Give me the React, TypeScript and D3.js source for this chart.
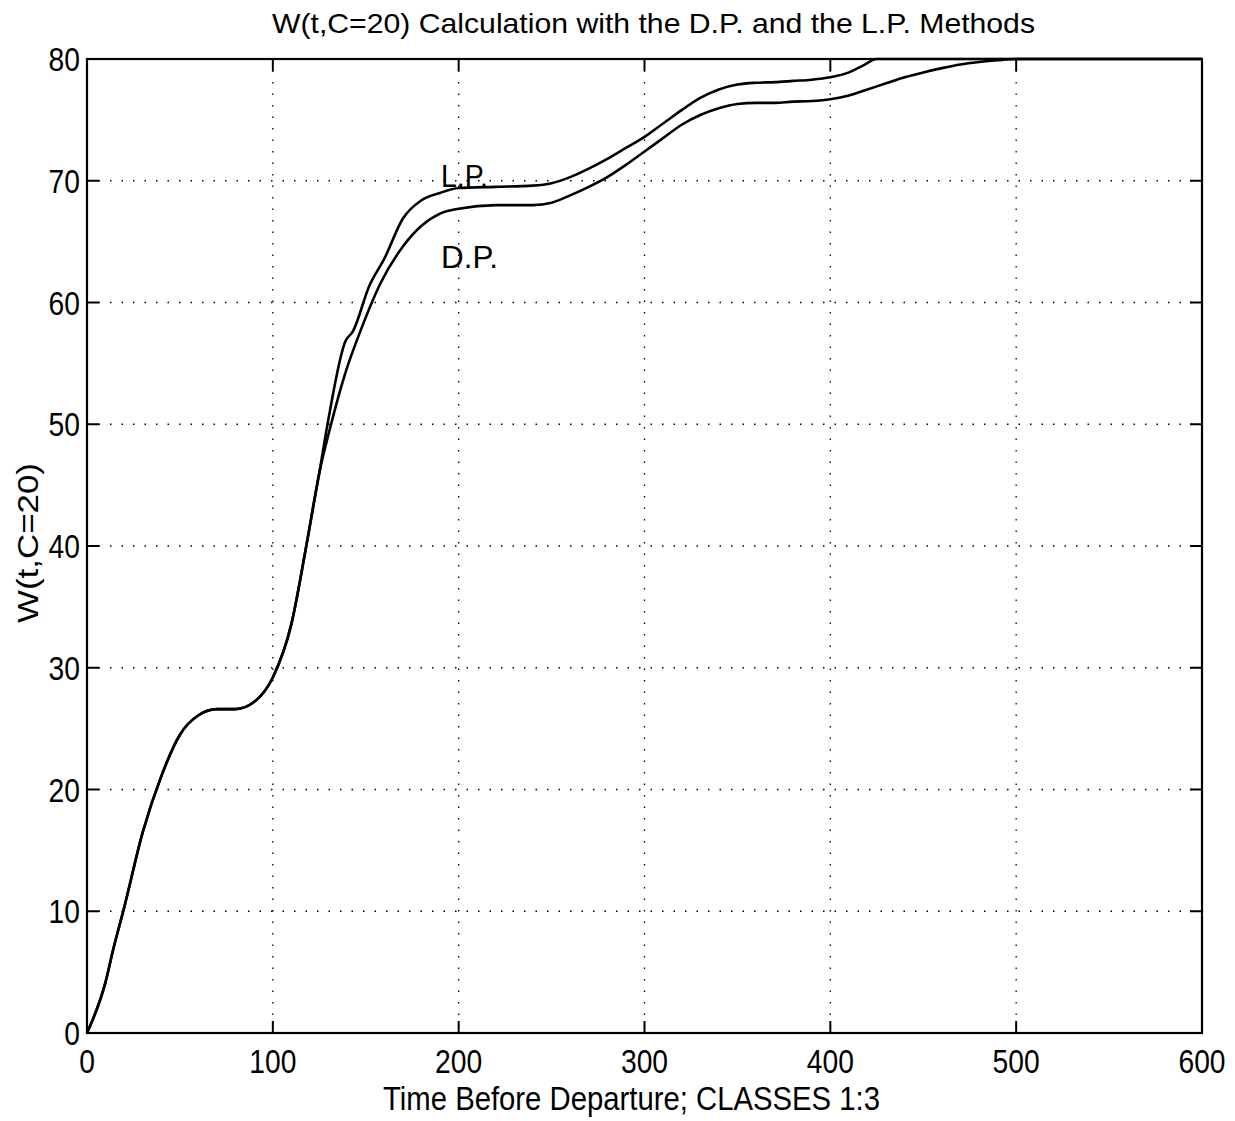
import React from "react";
import * as d3 from "d3";

const commonT = [0, 10, 14, 20, 30, 40, 50, 60, 70, 80, 90, 100, 110, 118, 125];
const commonW = [0, 4.2, 6.8, 10.3, 16.5, 21.1, 24.5, 26.1, 26.6, 26.6, 27.2, 29.2, 33.6, 40, 46];

const lpT = [130, 139, 143, 152, 160, 170, 180, 190, 200, 220, 240, 250, 260, 270, 280, 290, 300, 310, 320, 330, 340, 350, 360, 370, 380, 390, 400, 410, 418, 425, 600];
const lpW = [50.5, 56.8, 57.6, 61.4, 63.6, 66.9, 68.4, 69.0, 69.4, 69.5, 69.6, 69.8, 70.3, 71.0, 71.8, 72.7, 73.6, 74.7, 75.8, 76.8, 77.5, 77.9, 78.05, 78.1, 78.2, 78.3, 78.5, 78.9, 79.5, 80, 80];

const dpT = [131, 139, 148, 158, 170, 180, 190, 200, 220, 240, 250, 260, 270, 280, 290, 300, 310, 320, 330, 340, 350, 360, 370, 380, 390, 400, 410, 420, 430, 440, 450, 460, 470, 480, 490, 500, 600];
const dpW = [49.8, 54.2, 58, 61.6, 64.6, 66.3, 67.3, 67.7, 68.0, 68.0, 68.2, 68.8, 69.5, 70.3, 71.3, 72.4, 73.5, 74.6, 75.4, 75.95, 76.3, 76.4, 76.4, 76.5, 76.55, 76.7, 77.0, 77.5, 78.0, 78.5, 78.9, 79.25, 79.55, 79.75, 79.9, 80, 80];

const xTicks = [0, 100, 200, 300, 400, 500, 600];
const yTicks = [0, 10, 20, 30, 40, 50, 60, 70, 80];

const title = "W(t,C=20) Calculation with the D.P. and the L.P. Methods";
const xLabel = "Time Before Departure; CLASSES 1:3";
const yLabel = "W(t,C=20)";

export default function App() {
  const W = 1235, H = 1121;
  const left = 87, right = 1202, top = 59, bottom = 1033;
  const x = d3.scaleLinear().domain([0, 600]).range([left, right]);
  const y = d3.scaleLinear().domain([0, 80]).range([bottom, top]);
  const font = "'Liberation Sans Narrow', 'Liberation Sans', Arial, Helvetica, sans-serif";

  const lpPts: [number, number][] = [
    ...commonT.map((t, i) => [t, commonW[i]] as [number, number]),
    ...lpT.map((t, i) => [t, lpW[i]] as [number, number]),
  ];
  const dpPts: [number, number][] = [
    ...commonT.map((t, i) => [t, commonW[i]] as [number, number]),
    ...dpT.map((t, i) => [t, dpW[i]] as [number, number]),
  ];
  const line = d3
    .line<[number, number]>()
    .x((d) => x(d[0]))
    .y((d) => y(d[1]))
    .curve(d3.curveMonotoneX);

  const tickLen = 12;
  const digitW = 15.7;

  return (
    <svg width={W} height={H} style={{ position: "absolute", left: 0, top: 0, background: "#fff" }} fontFamily={font}>
      <rect x={0} y={0} width={W} height={H} fill="#fff" />
      {/* grid */}
      {xTicks.slice(1, -1).map((t) => (
        <line key={"gx" + t} x1={x(t)} x2={x(t)} y1={top} y2={bottom} stroke="#000" strokeWidth={1.3} strokeDasharray="1.5,10" />
      ))}
      {yTicks.slice(1, -1).map((t) => (
        <line key={"gy" + t} x1={left} x2={right} y1={y(t)} y2={y(t)} stroke="#000" strokeWidth={1.3} strokeDasharray="1.5,10" />
      ))}
      {/* ticks */}
      {xTicks.map((t) => (
        <g key={"tx" + t}>
          <line x1={x(t)} x2={x(t)} y1={bottom} y2={bottom - tickLen} stroke="#000" strokeWidth={2} />
          <line x1={x(t)} x2={x(t)} y1={top} y2={top + tickLen} stroke="#000" strokeWidth={2} />
          <text x={x(t)} y={bottom + 40} textAnchor="middle" fontSize={33}
            textLength={String(t).length * digitW} lengthAdjust="spacingAndGlyphs">{t}</text>
        </g>
      ))}
      {yTicks.map((t) => (
        <g key={"ty" + t}>
          <line x1={left} x2={left + tickLen} y1={y(t)} y2={y(t)} stroke="#000" strokeWidth={2} />
          <line x1={right} x2={right - tickLen} y1={y(t)} y2={y(t)} stroke="#000" strokeWidth={2} />
          <text x={left - 7} y={y(t) + 12} textAnchor="end" fontSize={33}
            textLength={String(t).length * digitW} lengthAdjust="spacingAndGlyphs">{t}</text>
        </g>
      ))}
      {/* frame */}
      <rect x={left} y={top} width={right - left} height={bottom - top} fill="none" stroke="#000" strokeWidth={2.2} />
      {/* curves */}
      <path d={line(lpPts) || ""} fill="none" stroke="#000" strokeWidth={2.6} />
      <path d={line(dpPts) || ""} fill="none" stroke="#000" strokeWidth={2.6} />
      {/* annotations */}
      <text x={441} y={187} fontSize={31} textLength={47} lengthAdjust="spacingAndGlyphs">L.P.</text>
      <text x={441} y={268} fontSize={31} textLength={57} lengthAdjust="spacingAndGlyphs">D.P.</text>
      {/* labels */}
      <text x={272} y={33} fontSize={28} textLength={763} lengthAdjust="spacingAndGlyphs">{title}</text>
      <text x={383} y={1110} fontSize={34} textLength={497} lengthAdjust="spacingAndGlyphs">{xLabel}</text>
      <text transform={`translate(38, 623) rotate(-90)`} fontSize={30} textLength={160} lengthAdjust="spacingAndGlyphs">{yLabel}</text>
    </svg>
  );
}
